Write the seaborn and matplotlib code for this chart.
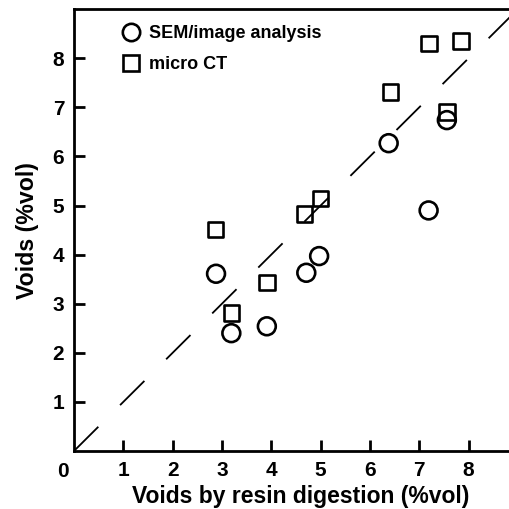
import numpy as np
import pandas as pd
import matplotlib
matplotlib.use("Agg")
import matplotlib.pyplot as plt
import seaborn as sns
from matplotlib.lines import Line2D

# --- data ---
sem_x = [2.88, 3.19, 3.91, 4.71, 4.97, 6.38, 7.19, 7.56]
sem_y = [3.61, 2.40, 2.54, 3.63, 3.97, 6.27, 4.90, 6.74]

ct_x = [2.87, 3.19, 3.91, 4.67, 5.00, 6.42, 7.20, 7.56, 7.85]
ct_y = [4.51, 2.81, 3.43, 4.83, 5.14, 7.31, 8.30, 6.90, 8.35]

methods = ["SEM/image analysis", "micro CT"]
line_ends = [0, 9]
ticks = [1, 2, 3, 4, 5, 6, 7, 8]

sem = pd.DataFrame({"resin": sem_x, "voids": sem_y})
ct = pd.DataFrame({"resin": ct_x, "voids": ct_y})

sns.set_style("ticks")
plt.rcParams["font.family"] = ["Liberation Sans", "DejaVu Sans"]
plt.rcParams["font.weight"] = "bold"
for key in ["text.color", "axes.labelcolor", "xtick.color", "ytick.color",
            "axes.edgecolor"]:
    plt.rcParams[key] = "black"

fig = plt.figure(figsize=(5.09, 5.09), dpi=100)
ax = fig.add_axes([0.1454, 0.114, 0.8546, 0.868])

# 1:1 line
ax.plot(line_ends, line_ends, color="black", lw=1.3,
        linestyle=(0, (19, 17)), zorder=1)

sns.scatterplot(data=sem, x="resin", y="voids", marker="o", s=165,
                facecolor="none", edgecolor="black", linewidth=1.9,
                ax=ax, zorder=3)
sns.scatterplot(data=ct, x="resin", y="voids", marker="s", s=125,
                facecolor="none", edgecolor="black", linewidth=1.9,
                ax=ax, zorder=3)

ax.set_xlim(0, 8.82)
ax.set_ylim(0, 9)
ax.set_xticks(ticks)
ax.set_yticks(ticks)
ax.tick_params(direction="in", length=8, width=2, labelsize=15, pad=7)
for lab in ax.get_xticklabels() + ax.get_yticklabels():
    lab.set_fontweight("bold")
ax.text(-0.22, -0.41, "0", ha="center", va="center", fontsize=15,
        fontweight="bold", clip_on=False)

for side in ["left", "bottom", "top"]:
    ax.spines[side].set_linewidth(2)
ax.spines["right"].set_visible(False)

ax.set_xlabel("Voids by resin digestion (%vol)", fontsize=16.5,
              fontweight="bold", labelpad=3.5)
ax.xaxis.label.set_x(0.521)
ax.set_ylabel("Voids (%vol)", fontsize=16.7, fontweight="bold", labelpad=10)

# legend
handles = [
    Line2D([], [], marker="o", ls="none", mfc="none", mec="black",
           mew=1.9, ms=12.5),
    Line2D([], [], marker="s", ls="none", mfc="none", mec="black",
           mew=1.9, ms=11),
]
ax.legend(handles, methods, loc="upper left", bbox_to_anchor=(0.073, 1.0),
          frameon=False, handlelength=1.0, handletextpad=0.5,
          labelspacing=0.75, prop={"weight": "bold", "size": 13})

fig.savefig("out.png", dpi=100)
